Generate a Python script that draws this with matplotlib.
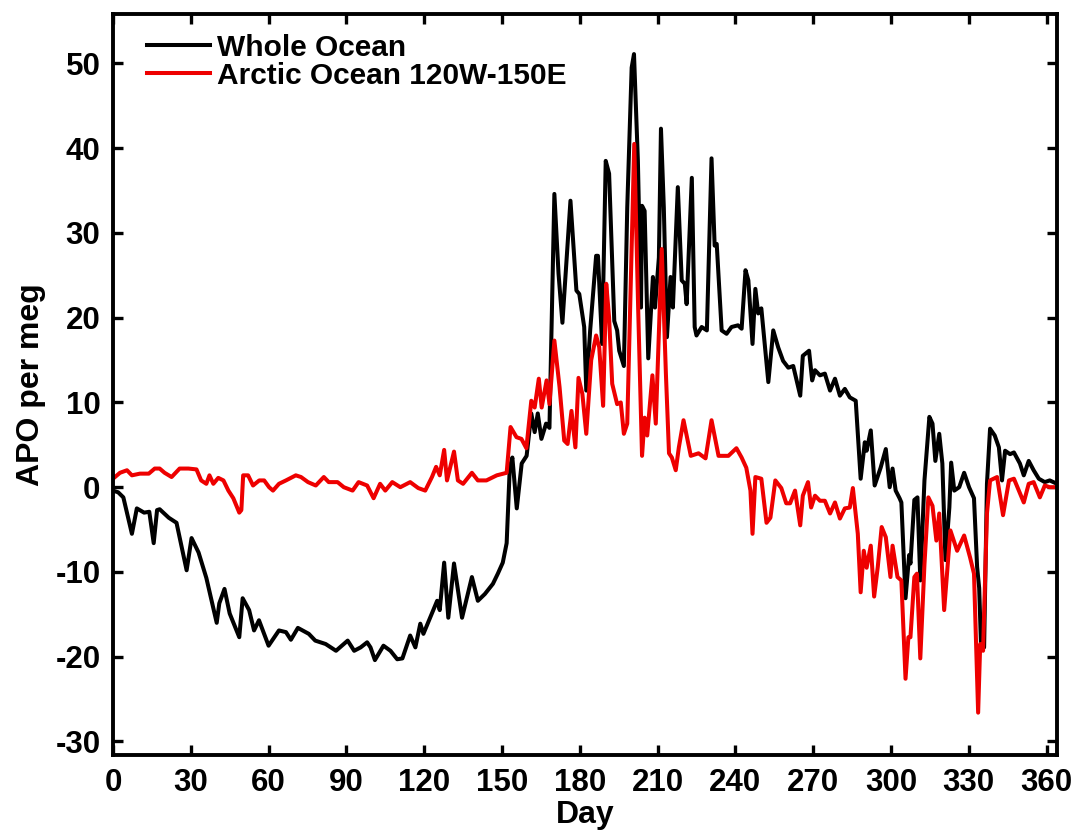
import matplotlib
matplotlib.use('Agg')
from matplotlib import pyplot as plt

# Whole Ocean (black)
days_whole = [0, 2, 4, 7.3, 9.2, 12, 14, 15.7, 17, 18, 21.5, 24.5, 28.4, 30.3, 33, 36,
              40, 41, 43, 45, 48.7, 50, 52.5, 54.4, 56.3, 60, 64, 66.7, 68.6, 71.3, 75.5,
              78, 82, 86, 90.5, 93, 95.5, 98, 99.3, 101, 104.3, 107, 109.6, 111.6, 114.6,
              116.6, 118.5, 119.7, 122.3, 125, 126, 127.7, 129.3, 131.5, 134.6, 138.4,
              140.7, 143.4, 146.5, 148.4, 150.3, 151.8, 153, 154, 155.7, 157.6, 159.5,
              161.3, 162.6, 163.8, 165.2, 167, 168.3, 170.2, 171.8, 173.3, 176.4, 178.7,
              179.8, 181.7, 182.5, 184, 186.3, 187, 188.6, 190, 191.3, 193.3, 194.4,
              195.2, 197, 198.3, 200, 200.9, 202.4, 203.6, 204, 205, 206.4, 208.2, 209,
              210.5, 211.3, 212.4, 213.6, 215, 215.9, 217.8, 219.3, 220.5, 221.2, 223.2,
              224.3, 225, 227, 229, 230.8, 232, 232.8, 234.7, 236.6, 238.5, 241, 242.4,
              243.9, 245, 246.6, 247.7, 248.8, 250, 252.7, 254.6, 256.5, 258.4, 260.4,
              262.3, 265, 266, 268.4, 269.6, 270.7, 272.6, 274.5, 276.5, 278.4, 280.3,
              282.2, 284.1, 286.4, 288.3, 289.9, 290.6, 292.2, 293.7, 296, 298, 299.5,
              300.6, 301.8, 303.3, 304, 305.6, 307, 307.5, 309, 310.2, 311.3, 312.9,
              314.8, 316, 317.1, 318.6, 319.8, 321, 322.5, 323.2, 324.4, 326.3, 328.2,
              330.1, 332, 333.2, 334, 334.7, 335.9, 337, 338.2, 340, 341.6, 342.8, 344,
              345.9, 347.4, 349.7, 351.2, 353.1, 355, 357, 359.3, 361.2, 364]
apo_whole = [-0.4, -0.6, -1.2, -5.5, -2.5, -3.0, -2.9, -6.6, -2.7, -2.6, -3.6, -4.2, -9.8,
             -6.0, -7.7, -10.7, -16.0, -13.7, -12.0, -14.9, -17.7, -13.1, -14.5, -16.9,
             -15.7, -18.7, -16.9, -17.1, -18.0, -16.6, -17.3, -18.1, -18.5, -19.3, -18.1,
             -19.3, -18.9, -18.3, -18.9, -20.4, -18.7, -19.3, -20.3, -20.2, -17.5, -18.9,
             -16.1, -17.3, -15.4, -13.4, -14.5, -8.9, -15.4, -9.0, -15.4, -10.6, -13.4,
             -12.6, -11.4, -10.2, -8.9, -6.6, 2.3, 3.5, -2.5, 2.8, 3.7, 8.7, 6.5, 8.7,
             5.7, 7.5, 7.0, 34.6, 25.2, 19.4, 33.8, 23.2, 22.8, 18.9, 11.4, 18.5, 27.3,
             27.3, 16.9, 38.5, 37.0, 19.6, 18.5, 16.1, 14.3, 33.0, 49.5, 51.1, 38.5,
             21.2, 33.2, 32.6, 15.2, 24.8, 21.2, 27.1, 42.3, 33.0, 17.7, 24.8, 21.2,
             35.4, 24.4, 24.0, 21.6, 36.5, 18.9, 17.9, 18.9, 18.5, 38.8, 28.5, 28.7,
             18.5, 18.1, 18.9, 19.1, 18.7, 25.6, 24.4, 16.9, 23.4, 20.5, 21.1, 12.4,
             18.5, 16.5, 14.9, 14.1, 14.3, 10.8, 15.5, 16.1, 12.6, 13.8, 13.2, 13.4,
             11.4, 12.8, 10.8, 11.6, 10.6, 10.2, 1.0, 5.3, 4.3, 6.7, 0.2, 2.3, 4.5, 0.0,
             2.2, -0.4, -1.3, -1.8, -13.1, -8.0, -9.0, -1.5, -1.2, -11.0, 0.8, 8.3, 7.5,
             3.1, 6.3, 2.8, -8.6, -2.4, 2.9, -0.4, 0.0, 1.7, 0.0, -1.3, -9.4, -11.9,
             -18.5, -18.9, 0.4, 6.9, 6.1, 4.7, 0.8, 4.3, 3.9, 4.1, 2.8, 1.4, 3.1, 2.0,
             1.0, 0.6, 0.8, 0.4]

# Arctic Ocean 120W-150E (red)
days_arctic = [0, 2.7, 5.4, 7.3, 10.4, 13.8, 16.1, 18, 19.9, 22.6, 25.7, 29.1, 32.2, 34,
               36, 37.2, 38.7, 40.6, 42.6, 44.5, 46.4, 48.7, 49.5, 50.2, 52.1, 54, 56.4,
               58.3, 60.2, 61.7, 64, 66.7, 70.5, 72.5, 75.2, 78.2, 81.3, 83.2, 86.6, 89,
               92.4, 94.7, 98, 100.5, 103, 105, 107.7, 110.8, 114.6, 117.7, 120.4, 123,
               124.6, 126, 127.7, 128.8, 131.5, 133, 135, 138.4, 140.7, 144, 148, 151.8,
               153.3, 155.6, 157.5, 159.4, 161.3, 162.6, 164.2, 165.3, 167.2, 168.3,
               170.2, 172.2, 174, 175.3, 176.8, 178.3, 179.5, 181, 182.5, 184.4, 186.3,
               187.5, 189, 190.2, 191.3, 192.5, 194.4, 195.8, 197, 198.3, 201, 202.5,
               204, 205, 206, 208, 209.3, 211.6, 213.2, 214.4, 215.5, 217, 218.2, 220,
               222.8, 225.8, 228.5, 230.8, 233.5, 237.3, 240.4, 242.4, 244.2, 245.8,
               246.6, 247.7, 250, 252, 253.5, 255.4, 257.7, 259.6, 261.1, 263, 265, 266,
               268, 269.2, 270.7, 272.6, 274.5, 276.5, 278.4, 280.3, 282.2, 284.1, 285.3,
               287.2, 288.3, 289.5, 290.6, 292.2, 293.5, 294.9, 296.4, 298, 299.8, 300.6,
               302.5, 304, 305.6, 306.7, 307.5, 309, 310, 311.3, 312.9, 314.4, 316,
               317.5, 318.6, 320.5, 322.9, 325.5, 328.2, 330.5, 332, 333.6, 334.4, 335.5,
               337, 338.2, 340.9, 343.2, 345.5, 347.4, 349.3, 351.2, 353.1, 355, 357.4,
               359.3, 361.2, 364]
apo_arctic = [1.0, 1.7, 2.0, 1.4, 1.6, 1.6, 2.2, 2.2, 1.7, 1.2, 2.2, 2.2, 2.1, 0.8, 0.4,
              1.4, 0.4, 1.1, 0.8, -0.4, -1.3, -3.0, -2.7, 1.4, 1.4, 0.2, 0.8, 0.8, 0.0,
              -0.4, 0.4, 0.8, 1.4, 1.2, 0.6, 0.2, 1.2, 0.6, 0.6, 0.0, -0.4, 0.6, 0.2,
              -1.3, 0.4, -0.4, 0.6, 0.0, 0.6, -0.1, -0.4, 1.2, 2.4, 1.4, 4.4, 0.8, 4.2,
              0.8, 0.4, 1.7, 0.8, 0.8, 1.4, 1.7, 7.1, 5.9, 5.7, 4.6, 10.2, 9.4, 12.8,
              9.4, 12.6, 9.8, 17.3, 11.8, 5.5, 5.1, 9.0, 4.7, 12.9, 11.0, 6.3, 15.0,
              17.9, 16.5, 9.6, 24.0, 20.0, 12.2, 9.8, 10.0, 6.3, 7.5, 40.5, 21.2, 3.7,
              8.2, 6.1, 13.2, 7.5, 28.1, 13.4, 4.0, 3.5, 2.0, 4.7, 7.9, 3.7, 4.0, 3.4,
              7.9, 3.7, 3.7, 4.6, 3.5, 2.3, -0.4, -5.5, 1.2, 1.0, -4.2, -3.6, 0.8, -0.1,
              -1.9, -1.9, -0.4, -4.5, -1.0, 0.6, -2.4, -1.0, -1.6, -1.6, -3.1, -1.8,
              -3.7, -2.5, -2.4, -0.1, -5.5, -12.4, -7.5, -9.5, -6.9, -12.9, -9.4, -4.7,
              -5.9, -10.6, -6.9, -10.6, -11.0, -22.6, -17.7, -17.7, -10.6, -10.2, -20.2,
              -9.1, -1.2, -2.2, -6.3, -3.1, -14.5, -5.1, -7.5, -5.7, -8.3, -10.2, -26.6,
              -18.5, -19.3, -3.1, 0.8, 1.2, -3.3, 0.8, 1.0, -0.4, -1.8, 0.4, 0.6, -1.2,
              0.2, 0.0, 0.0]

xticks = list(range(0, 361, 30))
yticks = list(range(-30, 51, 10))

plt.rcParams['font.family'] = ['Liberation Sans', 'DejaVu Sans']
plt.rcParams['font.weight'] = 'bold'
plt.rcParams['axes.unicode_minus'] = False

fig = plt.figure(figsize=(10.78, 8.38), dpi=100)
ax = fig.add_axes([0.1048, 0.099, 0.8757, 0.884])

ax.plot(days_whole, apo_whole, color='black', lw=2.9, label='Whole Ocean')
ax.plot(days_arctic, apo_arctic, color='#ee0000', lw=2.9, label='Arctic Ocean 120W-150E')

ax.set_xlim(0, 364)
ax.set_ylim(-31.6, 55.8)
ax.set_xticks(xticks)
ax.set_yticks(yticks)
ax.tick_params(direction='in', length=7, width=2.4, labelsize=22.5, top=True, right=True, pad=9)
for lab in ax.get_xticklabels() + ax.get_yticklabels():
    lab.set_fontweight('bold')
for s in ax.spines.values():
    s.set_linewidth(2.8)

ax.set_xlabel('Day', fontsize=23, fontweight='bold', labelpad=2)
ax.set_ylabel('APO per meg', fontsize=23, fontweight='bold', labelpad=7)

# legend rows a little tighter than default, but not overlapping
ax.legend(loc='upper left', bbox_to_anchor=(0.017, 0.998), frameon=False,
          handlelength=2.1, handletextpad=0.26, labelspacing=0.0, borderaxespad=0.2,
          prop={'weight': 'bold', 'size': 21.5})

fig.savefig('out.png', dpi=100)
